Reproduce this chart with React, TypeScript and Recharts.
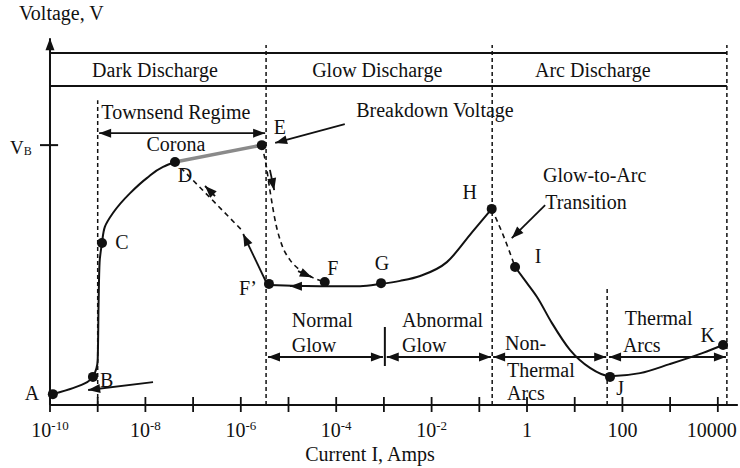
import React from "react";
import { ComposedChart, Line, Scatter, XAxis, YAxis, ReferenceLine } from "recharts";

// x = log10(current, A), y = voltage (arbitrary units)
const INK = "#111";
const FONT = '"Liberation Serif", "DejaVu Serif", serif';

const decades = [-10, -9, -8, -7, -6, -5, -4, -3, -2, -1, 0, 1, 2, 3, 4];
const decadeLabels: Record<string, [string, string]> = {
  "-10": ["10", "-10"],
  "-8": ["10", "-8"],
  "-6": ["10", "-6"],
  "-4": ["10", "-4"],
  "-2": ["10", "-2"],
  "0": ["1", ""],
  "2": ["100", ""],
  "4": ["10000", ""],
};

const darkCurve = [
  { x: -9.94, y: 2.9 },
  { x: -9.52, y: 4.5 },
  { x: -9.22, y: 6.1 },
  { x: -9.1, y: 7.5 },
  { x: -9.0, y: 12.0 },
  { x: -8.98, y: 28.0 },
  { x: -8.96, y: 38.1 },
  { x: -8.91, y: 43.2 },
  { x: -8.85, y: 47.5 },
  { x: -8.68, y: 51.2 },
  { x: -8.32, y: 56.5 },
  { x: -7.97, y: 60.5 },
  { x: -7.63, y: 63.5 },
  { x: -7.38, y: 64.8 },
];
const coronaLine = [
  { x: -7.38, y: 64.8 },
  { x: -5.56, y: 69.3 },
];
const breakdownPath = [
  { x: -5.56, y: 69.3 },
  { x: -5.47, y: 64.0 },
  { x: -5.39, y: 57.3 },
  { x: -5.26, y: 48.0 },
  { x: -5.14, y: 42.7 },
  { x: -4.97, y: 38.7 },
  { x: -4.76, y: 36.0 },
  { x: -4.51, y: 34.1 },
  { x: -4.24, y: 32.8 },
];
const glowCurve = [
  { x: -5.41, y: 32.0 },
  { x: -4.34, y: 31.7 },
  { x: -3.5, y: 31.7 },
  { x: -3.06, y: 32.3 },
  { x: -2.66, y: 33.1 },
  { x: -2.24, y: 34.4 },
  { x: -1.68, y: 38.1 },
  { x: -1.15, y: 46.1 },
  { x: -0.74, y: 52.3 },
];
const transitionPath = [
  { x: -0.74, y: 52.3 },
  { x: -0.5, y: 45.3 },
  { x: -0.25, y: 36.8 },
];
const arcCurve = [
  { x: -0.25, y: 36.8 },
  { x: 0.0, y: 32.5 },
  { x: 0.21, y: 28.8 },
  { x: 0.52, y: 21.9 },
  { x: 0.9, y: 14.7 },
  { x: 1.32, y: 9.9 },
  { x: 1.74, y: 7.7 },
  { x: 2.37, y: 8.5 },
  { x: 2.99, y: 10.9 },
  { x: 3.69, y: 13.9 },
  { x: 4.11, y: 16.0 },
];
const keyPoints = [
  { x: -9.94, y: 2.9 },
  { x: -9.1, y: 7.5 },
  { x: -8.91, y: 43.2 },
  { x: -7.38, y: 64.8 },
  { x: -5.56, y: 69.3 },
  { x: -4.24, y: 32.8 },
  { x: -5.41, y: 32.3 },
  { x: -3.06, y: 32.5 },
  { x: -0.74, y: 52.3 },
  { x: -0.25, y: 36.8 },
  { x: 1.74, y: 7.5 },
  { x: 4.11, y: 16.0 },
];

const centeredLabels = [
  { x: -7.8, y: 89.3, text: "Dark Discharge" },
  { x: -3.14, y: 89.3, text: "Glow Discharge" },
  { x: 1.38, y: 89.3, text: "Arc Discharge" },
  { x: -7.36, y: 78.1, text: "Townsend Regime" },
  { x: -1.93, y: 78.7, text: "Breakdown Voltage" },
  { x: -7.36, y: 69.6, text: "Corona" },
  { x: -5.18, y: 74.1, text: "E" },
  { x: -10.38, y: 3.2, text: "A" },
  { x: -8.81, y: 6.7, text: "B" },
  { x: -8.49, y: 43.5, text: "C" },
  { x: -7.17, y: 61.3, text: "D" },
  { x: -4.07, y: 36.5, text: "F" },
  { x: -5.85, y: 31.2, text: "F’" },
  { x: -3.04, y: 37.9, text: "G" },
  { x: -1.2, y: 56.8, text: "H" },
  { x: 0.23, y: 39.7, text: "I" },
  { x: 1.95, y: 4.5, text: "J" },
  { x: 3.79, y: 18.7, text: "K" },
];
const leftLabels = [
  { x: -10.65, y: 104.5, text: "Voltage, V" },
  { x: 0.335, y: 61.3, text: "Glow-to-Arc" },
  { x: 0.38, y: 54.1, text: "Transition" },
  { x: -4.93, y: 22.7, text: "Normal" },
  { x: -4.93, y: 16.0, text: "Glow" },
  { x: -2.62, y: 22.7, text: "Abnormal" },
  { x: -2.62, y: 16.0, text: "Glow" },
  { x: -0.46, y: 16.5, text: "Non-" },
  { x: -0.42, y: 9.3, text: "Thermal" },
  { x: -0.42, y: 3.2, text: "Arcs" },
  { x: 2.05, y: 23.2, text: "Thermal" },
  { x: 2.01, y: 16.0, text: "Arcs" },
];
const vbLabel = [{ x: -10.84, y: 68.8 }];

// vertical dashed region boundaries: x and top of line
const regionBounds = [
  { x: -9.0, top: 81.3 },
  { x: -5.47, top: 96 },
  { x: -0.73, top: 96 },
  { x: 4.19, top: 96 },
  { x: 1.68, top: 31.5 },
];
const bandLines = [93.9, 85.1];
const bandRight = 4.19;

type Seg = [[number, number], [number, number]];
const doubleArrows: Seg[] = [
  [[-8.97, 72.5], [-5.49, 72.5]],
  [[-5.43, 12.8], [-3.02, 12.8]],
  [[-2.94, 12.8], [-0.755, 12.8]],
  [[-0.71, 12.8], [1.66, 12.8]],
  [[1.72, 12.8], [4.17, 12.8]],
];
const singleArrows: Seg[] = [
  [[-7.84, 6.1], [-9.2, 4.0]],
  [[-3.82, 74.9], [-5.28, 69.9]],
  [[-5.39, 62.7], [-5.3, 57.3]],
  [[-4.8, 35.7], [-4.51, 34.1]],
  [[-4.55, 31.7], [-4.97, 31.7]],
  [[-5.47, 32.8], [-5.95, 45.6]],
  [[-6.54, 55.7], [-6.75, 58.4]],
  [[0.38, 53.3], [-0.32, 44.5]],
];
const dashedSegs: Seg[] = [[[-6.0, 46.9], [-7.23, 62.9]]];
const plainSegs: Seg[] = [
  [[-10.21, 69.3], [-9.83, 69.3]],
  [[-2.98, 20.8], [-2.98, 10.4]],
  [[-10, 0], [4.42, 0]],
];
const yAxisSeg: Seg = [[-10, 0], [-10, 97.8]];

const head = (tx: number, ty: number, fx: number, fy: number, key: string) => {
  const a = Math.atan2(ty - fy, tx - fx);
  const L = 12;
  const W = 4.5;
  const bx = tx - L * Math.cos(a);
  const by = ty - L * Math.sin(a);
  const pts = `${tx},${ty} ${bx - W * Math.sin(a)},${by + W * Math.cos(a)} ${bx + W * Math.sin(a)},${by - W * Math.cos(a)}`;
  return <polygon key={key} points={pts} fill={INK} />;
};

const arrowShape = (both: boolean, width = 1.8) => (p: any) => (
  <g>
    <line x1={p.x1} y1={p.y1} x2={p.x2} y2={p.y2} stroke={INK} strokeWidth={width} />
    {head(p.x2, p.y2, p.x1, p.y1, "e")}
    {both ? head(p.x1, p.y1, p.x2, p.y2, "s") : null}
  </g>
);

const toSeg = (s: Seg) => [
  { x: s[0][0], y: s[0][1] },
  { x: s[1][0], y: s[1][1] },
];

const DecadeTick = (props: any) => {
  const { x, y, payload } = props;
  const lbl = decadeLabels[String(payload.value)];
  const last = payload.value === decades[decades.length - 1];
  return (
    <g>
      <line x1={x} x2={x} y1={y - 8} y2={y + 7} stroke={INK} strokeWidth={1.8} />
      {lbl ? (
        <text
          x={last ? x + 19 : x}
          y={y + 32}
          textAnchor={last ? "end" : "middle"}
          fontSize={20}
          fill={INK}
          fontFamily={FONT}
        >
          {lbl[0]}
          {lbl[1] ? (
            <tspan dy={-7} fontSize={13}>
              {lbl[1]}
            </tspan>
          ) : null}
        </text>
      ) : null}
    </g>
  );
};

const textShape = (anchor: "middle" | "start", size = 20) => (p: any) => (
  <text
    x={p.cx}
    y={p.cy}
    textAnchor={anchor}
    dominantBaseline="central"
    fontSize={size}
    fill={INK}
    fontFamily={FONT}
  >
    {p.payload.text}
  </text>
);

const VbShape = (p: any) => (
  <text x={p.cx} y={p.cy} dominantBaseline="central" fontSize={19} fill={INK} fontFamily={FONT}>
    V
    <tspan dy={4} fontSize={12}>
      B
    </tspan>
  </text>
);

const DotShape = (p: any) => <circle cx={p.cx} cy={p.cy} r={5} fill={INK} />;

export default function App() {
  return (
    <div style={{ width: 740, height: 468, fontFamily: FONT, background: "#fff" }}>
      <style>{"body{margin:0}"}</style>
      <ComposedChart width={740} height={468} margin={{ top: 0, right: 0, bottom: 0, left: 0 }}>
        <XAxis
          type="number"
          dataKey="x"
          domain={[-11.048, 4.465]}
          ticks={decades}
          interval={0}
          tick={<DecadeTick />}
          axisLine={false}
          tickLine={false}
          tickSize={0}
          tickMargin={0}
          height={63}
          label={{
            value: "Current I, Amps",
            position: "insideBottom",
            offset: 7,
            fill: INK,
            fontSize: 20,
            fontFamily: FONT,
          }}
        />
        <YAxis type="number" dataKey="y" domain={[0, 108]} hide />

        {bandLines.map((y) => (
          <ReferenceLine key={"band" + y} segment={[{ x: -10, y }, { x: bandRight, y }]} stroke={INK} strokeWidth={2} />
        ))}
        {regionBounds.map((b) => (
          <ReferenceLine
            key={"rb" + b.x}
            segment={[{ x: b.x, y: 0 }, { x: b.x, y: b.top }]}
            stroke={INK}
            strokeWidth={1.5}
            strokeDasharray="4 3"
          />
        ))}
        {plainSegs.map((s, i) => (
          <ReferenceLine key={"ps" + i} segment={toSeg(s)} stroke={INK} strokeWidth={2} />
        ))}
        {dashedSegs.map((s, i) => (
          <ReferenceLine key={"ds" + i} segment={toSeg(s)} stroke={INK} strokeWidth={1.6} strokeDasharray="5 4" />
        ))}
        <ReferenceLine segment={toSeg(yAxisSeg)} shape={arrowShape(false, 2)} />
        {doubleArrows.map((s, i) => (
          <ReferenceLine key={"da" + i} segment={toSeg(s)} shape={arrowShape(true)} />
        ))}
        {singleArrows.map((s, i) => (
          <ReferenceLine key={"sa" + i} segment={toSeg(s)} shape={arrowShape(false)} />
        ))}

        <Line data={coronaLine} dataKey="y" type="linear" stroke="#8a8a8a" strokeWidth={3.5} dot={false} isAnimationActive={false} />
        <Line data={darkCurve} dataKey="y" type="monotoneY" stroke={INK} strokeWidth={2} dot={false} isAnimationActive={false} />
        <Line data={breakdownPath} dataKey="y" type="monotone" stroke={INK} strokeWidth={1.6} strokeDasharray="5 4" dot={false} isAnimationActive={false} />
        <Line data={glowCurve} dataKey="y" type="monotone" stroke={INK} strokeWidth={2} dot={false} isAnimationActive={false} />
        <Line data={transitionPath} dataKey="y" type="monotone" stroke={INK} strokeWidth={1.6} strokeDasharray="5 4" dot={false} isAnimationActive={false} />
        <Line data={arcCurve} dataKey="y" type="monotone" stroke={INK} strokeWidth={2} dot={false} isAnimationActive={false} />

        <Scatter data={keyPoints} dataKey="y" shape={DotShape} isAnimationActive={false} />
        <Scatter data={centeredLabels} dataKey="y" shape={textShape("middle")} isAnimationActive={false} />
        <Scatter data={leftLabels} dataKey="y" shape={textShape("start")} isAnimationActive={false} />
        <Scatter data={vbLabel} dataKey="y" shape={VbShape} isAnimationActive={false} />
      </ComposedChart>
    </div>
  );
}
